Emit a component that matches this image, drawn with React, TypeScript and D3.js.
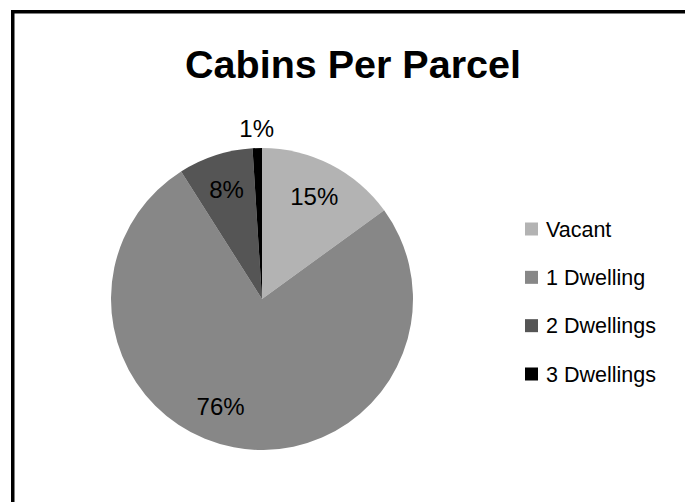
import React from 'react';
import * as d3 from 'd3';

const categories = ['Vacant', '1 Dwelling', '2 Dwellings', '3 Dwellings'];
const values = [15, 76, 8, 1];
const colors = ['#b3b3b3', '#878787', '#555555', '#000000'];

const W = 685;
const H = 502;

const App = () => {
  const cx = 262;
  const cy = 299;
  const r = 151;

  const data = categories.map((c, i) => ({ name: c, value: values[i], color: colors[i] }));
  const pie = d3.pie<any>().sort(null).value(d => d.value);
  const arcs = pie(data);
  const arc = d3.arc<any>().innerRadius(0).outerRadius(r);

  const total = d3.sum(values);
  // Excel's "best fit" pushes the big slice's label a bit further round
  const angleNudge: Record<string, number> = { '1 Dwelling': 0.18 };

  const legendY = d3.scalePoint<string>().domain(categories).range([229, 374]);

  return (
    <svg width={W} height={H} style={{ position: 'absolute', left: 0, top: 0 }}
      fontFamily="'Liberation Sans', Arial, sans-serif">
      <rect x={0} y={0} width={W} height={H} fill="#fff" />
      <rect x={12.75} y={11.75} width={W + 20} height={H + 20} fill="none" stroke="#000" strokeWidth={3.5} />
      <text x={353} y={78} textAnchor="middle" fontSize={39.5} fontWeight="bold" fill="#000">
        Cabins Per Parcel
      </text>
      <g transform={`translate(${cx},${cy})`}>
        {arcs.map(a => (
          <path key={a.data.name} d={arc(a) || ''} fill={a.data.color} />
        ))}
        {arcs.map(a => {
          const pct = Math.round((a.data.value / total) * 100);
          const outside = pct < 3;
          const lr = outside ? r + 20 : 115;
          const ang = (a.startAngle + a.endAngle) / 2 + (angleNudge[a.data.name] || 0);
          const x = Math.sin(ang) * lr;
          const y = -Math.cos(ang) * lr;
          return (
            <text key={a.data.name} x={x} y={y} dy="0.36em" textAnchor="middle" fontSize={24} fill="#000">
              {pct}%
            </text>
          );
        })}
      </g>
      <g>
        {categories.map((c, i) => (
          <g key={c} transform={`translate(525,${legendY(c)})`}>
            <rect x={0} y={-6.5} width={13} height={13} fill={colors[i]} />
            <text x={21} y={0} dy="0.36em" fontSize={21.5} fill="#000">{c}</text>
          </g>
        ))}
      </g>
    </svg>
  );
};

export default App;
